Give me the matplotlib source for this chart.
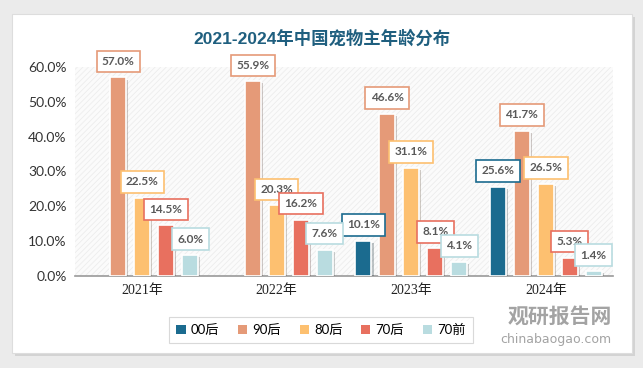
import matplotlib as mpl
from matplotlib import pyplot as plt
from matplotlib.patches import Rectangle, FancyBboxPatch, Patch
import matplotlib.patheffects as pe
import numpy as np

years = ["2021年", "2022年", "2023年", "2024年"]
series = ["00后", "90后", "80后", "70后", "70前"]
values = {
    "00后": [0.0, 0.0, 10.1, 25.6],
    "90后": [57.0, 55.9, 46.6, 41.7],
    "80后": [22.5, 20.3, 31.1, 26.5],
    "70后": [14.5, 16.2, 8.1, 5.3],
    "70前": [6.0, 7.6, 4.1, 1.4],
}
colors = ["#1b6b8f", "#e59a78", "#fdc070", "#e8705f", "#b9dce0"]
yticks = [0, 10, 20, 30, 40, 50, 60]


def main():
    cjk = ["Lato", "Noto Sans CJK SC", "DejaVu Sans"]
    mpl.rcParams.update({"font.family": cjk, "font.size": 9, "hatch.linewidth": 0.6})

    fig = plt.figure(figsize=(6.43, 3.68), dpi=100, facecolor="#ebebeb")
    card = FancyBboxPatch((12 / 643, 1 - 353 / 368), 620 / 643, 339 / 368,
                          boxstyle="square,pad=0", transform=fig.transFigure,
                          facecolor="white", edgecolor="#dddddd", lw=0.8, zorder=-10,
                          path_effects=[pe.SimplePatchShadow(offset=(2, -2), alpha=0.15), pe.Normal()])
    fig.patches.append(card)

    ax = fig.add_axes([75 / 643, 1 - 276 / 368, 538 / 643, 209 / 368])
    ax.set_facecolor("white")
    ax.add_patch(Rectangle((0, 0), 1, 1, transform=ax.transAxes, facecolor="#fbfbfb",
                           hatch="//////", edgecolor="#ededed", lw=0, zorder=0))

    x = np.arange(len(years))
    step = 0.178
    width = 0.12
    handles = []
    for i, (name, col) in enumerate(zip(series, colors)):
        vals = np.array(values[name])
        pos = x + (i - 2) * step
        keep = vals > 0
        bars = ax.bar(pos[keep], vals[keep], width, color=col, edgecolor="white", lw=1.2, zorder=3)
        for b in bars:
            b.set_path_effects([pe.SimplePatchShadow(offset=(1.5, -1.5), alpha=0.25), pe.Normal()])
        handles.append(Patch(facecolor=col, edgecolor="none", label=name))
        for px, v in zip(pos[keep], vals[keep]):
            ax.annotate("%.1f%%" % v, (px, v), xytext=(0, 7.5), textcoords="offset points",
                        ha="center", va="bottom", fontsize=8.5, fontweight="bold", color="#595959",
                        zorder=5, annotation_clip=False,
                        bbox=dict(boxstyle="square,pad=0.45", fc="white", ec=col, lw=1.2))

    ax.set_xlim(-0.5, 3.5)
    ax.set_ylim(0, 60)
    ax.set_yticks(yticks)
    ax.set_yticklabels(["%.1f%%" % t for t in yticks], fontsize=10, color="#333333")
    ax.set_xticks(x)
    ax.set_xticklabels(years, fontsize=10, color="#222222",
                       family=["Liberation Serif", "Noto Sans CJK SC"])
    ax.tick_params(axis="both", length=0, pad=6)
    for s in ["top", "right", "left"]:
        ax.spines[s].set_visible(False)
    ax.spines["bottom"].set_color("#999999")
    ax.spines["bottom"].set_linewidth(1.2)

    fig.text(0.5, 1 - 38 / 368, "2021-2024年中国宠物主年龄分布", ha="center", va="center",
             fontsize=12.5, fontweight="bold", color="#1f5f7f",
             family=["Liberation Sans", "Noto Sans CJK SC"])

    leg = fig.legend(handles=handles, loc="center", bbox_to_anchor=(321 / 643, 1 - 330 / 368), ncol=5,
                     frameon=True, fontsize=9.5, handlelength=0.7, handleheight=0.7,
                     handletextpad=0.4, columnspacing=1.4, borderpad=0.55)
    leg.get_frame().set_edgecolor("#d0d0d0")
    leg.get_frame().set_boxstyle("square,pad=0")
    leg.get_frame().set_linewidth(0.8)

    # watermark
    fig.text(560 / 643, 1 - 316 / 368, "观研报告网", ha="center", va="center", fontsize=15,
             fontweight="bold", color="#8c8c8c", alpha=0.8, family=["Noto Sans CJK SC"])
    fig.text(556 / 643, 1 - 340 / 368, "chinabaogao.com", ha="center", va="center", fontsize=9,
             color="#8c8c8c", alpha=0.8, family=["DejaVu Sans"])

    fig.savefig("out.png", dpi=100, facecolor=fig.get_facecolor())


if __name__ == "__main__":
    main()
